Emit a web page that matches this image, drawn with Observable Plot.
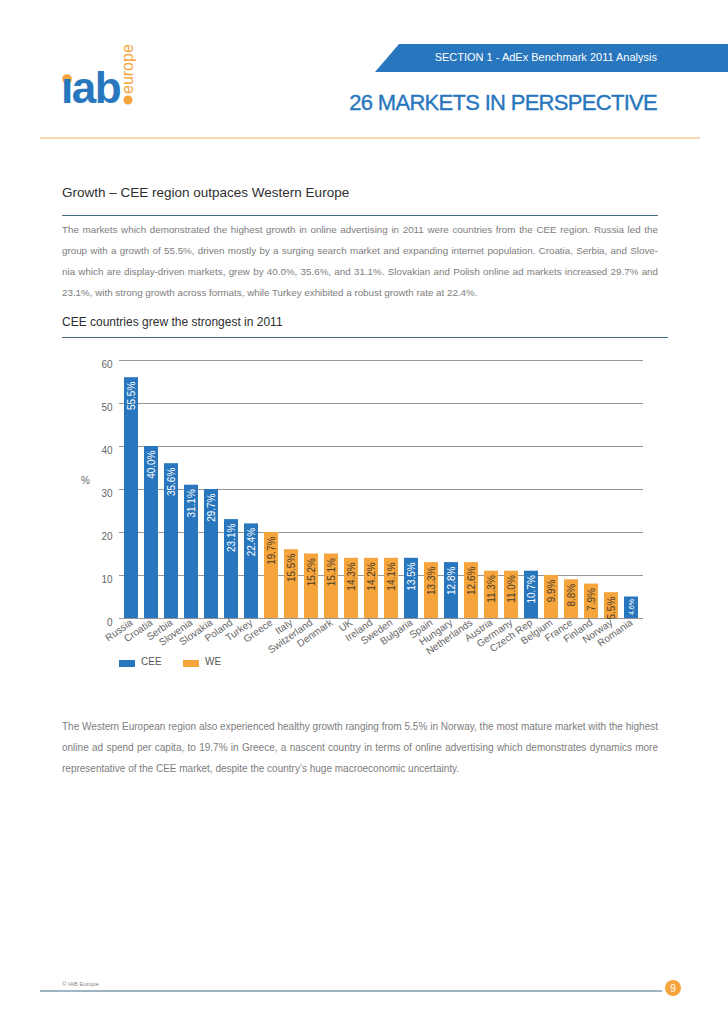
<!DOCTYPE html>
<html>
<head>
<meta charset="utf-8">
<script src="https://cdn.jsdelivr.net/npm/d3@7"></script>
<script src="https://cdn.jsdelivr.net/npm/@observablehq/plot@0.6"></script>
<style>
  html, body { margin: 0; padding: 0; background: #fff; }
  #page { position: relative; width: 728px; height: 1030px; overflow: hidden; font-family: "Liberation Sans", Arial, sans-serif; }
  .abs { position: absolute; }
  .h2 { color: #2e2e2e; left: 62px; white-space: nowrap; }
  .rule { position: absolute; height: 1px; background: #3f6b86; }
  .para { left: 62px; width: 596px; font-size: 10px; line-height: 21px; color: #7d7d7d; text-align: justify; }
  #chart { position: absolute; left: 0; top: 340px; }
  .legend { font-size: 10px; color: #555; top: 656px; }
  .sw { position: absolute; width: 16px; height: 7px; top: 660px; }
</style>
</head>
<body>
<div id="page">
  <!-- header -->
  <svg class="abs" style="left:0;top:0" width="728" height="140">
    <polygon points="399,44 728,44 728,72 375,72" fill="#2876bd"></polygon>
    <line x1="40" y1="138" x2="700" y2="138" stroke="#f2b060" stroke-width="1"></line>
    <circle cx="67" cy="79" r="4.8" fill="#f6a43c"></circle>
    <circle cx="128" cy="100" r="4.5" fill="#f6a43c"></circle>
  </svg>
  <div class="abs" style="left:61px;top:66px;font-size:44px;font-weight:bold;color:#2876bd;letter-spacing:-1.5px;line-height:44px;">ıab</div>
  <div class="abs" style="left:128px;top:70px;font-size:16px;color:#f6a43c;transform-origin:0 0;transform:rotate(-90deg) translate(-24px,-8px);line-height:16px;white-space:nowrap;">europe</div>
  <div class="abs" style="right:71px;top:51px;font-size:11px;color:#fff;white-space:nowrap;">SECTION 1 - AdEx Benchmark 2011 Analysis</div>
  <div class="abs" style="right:71px;top:90px;font-size:22px;color:#2876bd;white-space:nowrap;letter-spacing:-0.7px;-webkit-text-stroke:0.35px #2876bd;">26 MARKETS IN PERSPECTIVE</div>

  <!-- section 1 -->
  <div class="abs h2" style="top:185px;font-size:13.5px;">Growth – CEE region outpaces Western Europe</div>
  <div class="rule" style="left:62px;top:215px;width:596px;"></div>
  <div class="abs para" style="top:219px;font-size:9.8px;">The markets which demonstrated the highest growth in online advertising in 2011 were countries from the CEE region. Russia led the group with a growth of 55.5%, driven mostly by a surging search market and expanding internet population. Croatia, Serbia, and Slove-nia which are display-driven markets, grew by 40.0%, 35.6%, and 31.1%. Slovakian and Polish online ad markets increased 29.7% and 23.1%, with strong growth across formats, while Turkey exhibited a robust growth rate at 22.4%.</div>

  <div class="abs h2" style="top:315px;font-size:12px;">CEE countries grew the strongest in 2011</div>
  <div class="rule" style="left:62px;top:337px;width:606px;"></div>

  <div id="chart"></div>
  <div class="abs" style="left:81px;top:475px;font-size:10px;color:#666;">%</div>

  <div class="sw" style="left:119px;background:#2876bd;"></div>
  <div class="abs legend" style="left:141px;">CEE</div>
  <div class="sw" style="left:183px;background:#f6a43c;"></div>
  <div class="abs legend" style="left:205px;">WE</div>

  <div class="abs para" style="top:716px;">The Western European region also experienced healthy growth ranging from 5.5% in Norway, the most mature market with the highest online ad spend per capita, to 19.7% in Greece, a nascent country in terms of online advertising which demonstrates dynamics more representative of the CEE market, despite the country’s huge macroeconomic uncertainty.</div>

  <!-- footer -->
  <div class="abs" style="left:62px;top:981px;font-size:6px;color:#888;">© IAB Europe</div>
  <svg class="abs" style="left:0;top:975px" width="728" height="30">
    <line x1="40" y1="16" x2="662" y2="16" stroke="#3f6b86" stroke-width="1"></line>
    <circle cx="673" cy="13" r="8" fill="#f6a43c"></circle>
    <text x="673" y="17" text-anchor="middle" font-size="10" fill="#fff" font-family="Liberation Sans, Arial, sans-serif">9</text>
  </svg>
</div>
<script>
const countries = ["Russia","Croatia","Serbia","Slovenia","Slovakia","Poland","Turkey","Greece","Italy","Switzerland","Denmark","UK","Ireland","Sweden","Bulgaria","Spain","Hungary","Netherlands","Austria","Germany","Czech Rep","Belgium","France","Finland","Norway","Romania"];
// printed growth values (%)
const growthLabels = [55.5,40.0,35.6,31.1,29.7,23.1,22.4,19.7,15.5,15.2,15.1,14.3,14.2,14.1,13.5,13.3,12.8,12.6,11.3,11.0,10.7,9.9,8.8,7.9,5.5,4.6];
const barHeights = [56,40,36,31,30,23,22,20,16,15,15,14,14,14,14,13,13,13,11,11,11,10,9,8,6,5];
const regions = ["CEE","CEE","CEE","CEE","CEE","CEE","CEE","WE","WE","WE","WE","WE","WE","WE","CEE","WE","CEE","WE","WE","WE","CEE","WE","WE","WE","WE","CEE"];
const yTicks = [0,10,20,30,40,50,60];
const regionNames = ["CEE","WE"];
const regionColors = ["#2876bd","#f6a43c"];

const data = countries.map((c, i) => ({country: c, label: growthLabels[i], bar: barHeights[i], region: regions[i]}));
const fmt = v => v.toFixed(1) + "%";

const chart = Plot.plot({
  width: 728,
  height: 340,
  marginTop: 20,
  marginBottom: 62,
  marginLeft: 119,
  marginRight: 85,
  style: {fontFamily: "Liberation Sans, Arial, sans-serif", background: "transparent"},
  x: {domain: countries, paddingInner: 0.28, paddingOuter: 0.14, label: null},
  y: {domain: [0, 60], label: null},
  color: {domain: regionNames, range: regionColors},
  marks: [
    Plot.gridY(yTicks, {stroke: "#8a8a8a", strokeOpacity: 1, strokeWidth: 0.9}),
    Plot.barY(data, {x: "country", y: "bar", fill: "region"}),
    Plot.text(data.filter(d => d.region === "CEE" && d.bar >= 6), {
      x: "country", y: "bar", text: d => fmt(d.label), rotate: -90,
      textAnchor: "end", lineAnchor: "middle", dy: 4,
      fontSize: 10, fill: "#ffffff"
    }),
    Plot.text(data.filter(d => d.region === "CEE" && d.bar < 6), {
      x: "country", y: "bar", text: d => fmt(d.label), rotate: -90,
      textAnchor: "end", lineAnchor: "middle", dy: 2,
      fontSize: 7, fill: "#ffffff"
    }),
    Plot.text(data.filter(d => d.region === "WE"), {
      x: "country", y: "bar", text: d => fmt(d.label), rotate: -90,
      textAnchor: "end", lineAnchor: "middle", dy: 4,
      fontSize: 10, fill: "#4a3c28"
    }),
    Plot.axisY({ticks: yTicks, tickSize: 0, tickPadding: 7, dy: 4, fontSize: 10, fill: "#666", label: null}),
    Plot.axisX({tickSize: 0, tickPadding: 3, tickRotate: -35, fontSize: 10, fill: "#666", label: null})
  ]
});
document.getElementById("chart").appendChild(chart);
</script>
</body>
</html>
